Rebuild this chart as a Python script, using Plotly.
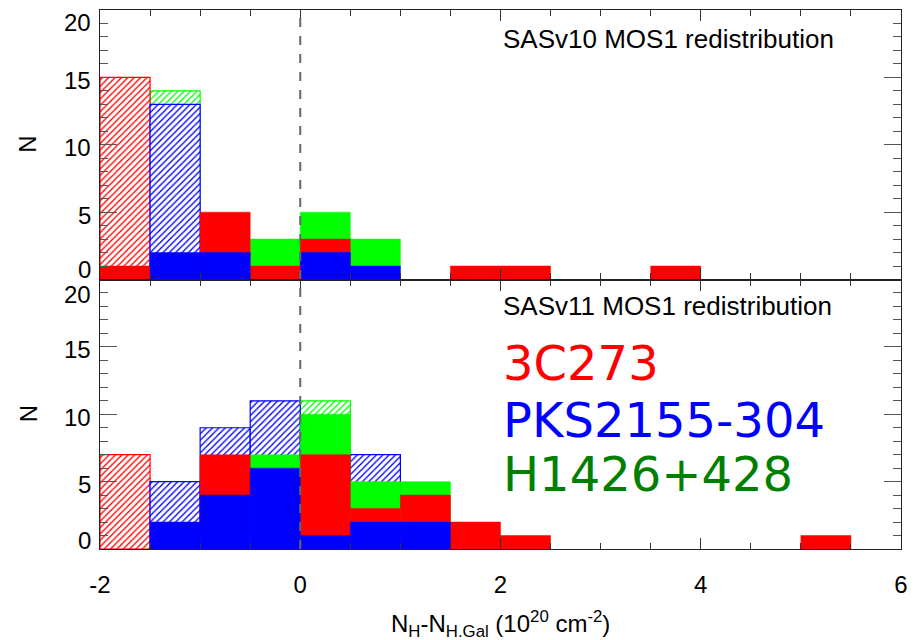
import plotly.graph_objects as go

# ---- data -------------------------------------------------------------
bin_edges = [-2.0, -1.5, -1.0, -0.5, 0.0, 0.5, 1.0, 1.5, 2.0, 2.5, 3.0, 3.5, 4.0, 4.5, 5.0, 5.5, 6.0]
bin_width = 0.5

# SASv10 MOS1 redistribution (top panel)
v10_red_solid   = [1, 0, 5, 1, 3, 0, 0, 1, 1, 0, 0, 1, 0, 0, 0, 0]
v10_blue_solid  = [0, 2, 2, 0, 2, 1, 0, 0, 0, 0, 0, 0, 0, 0, 0, 0]
v10_green_solid = [0, 0, 0, 3, 5, 3, 0, 0, 0, 0, 0, 0, 0, 0, 0, 0]
v10_red_hatch   = [15, 0, 0, 0, 0, 0, 0, 0, 0, 0, 0, 0, 0, 0, 0, 0]
v10_blue_hatch  = [0, 13, 0, 0, 0, 0, 0, 0, 0, 0, 0, 0, 0, 0, 0, 0]
v10_green_hatch = [0, 14, 0, 0, 0, 0, 0, 0, 0, 0, 0, 0, 0, 0, 0, 0]

# SASv11 MOS1 redistribution (bottom panel)
v11_red_solid   = [0, 0, 7, 0, 7, 3, 4, 2, 1, 0, 0, 0, 0, 0, 1, 0]
v11_blue_solid  = [0, 2, 4, 6, 1, 2, 2, 0, 0, 0, 0, 0, 0, 0, 0, 0]
v11_green_solid = [0, 0, 0, 7, 10, 5, 5, 0, 0, 0, 0, 0, 0, 0, 0, 0]
v11_red_hatch   = [7, 0, 0, 0, 0, 0, 0, 0, 0, 0, 0, 0, 0, 0, 0, 0]
v11_blue_hatch  = [0, 5, 9, 11, 0, 7, 0, 0, 0, 0, 0, 0, 0, 0, 0, 0]
v11_green_hatch = [0, 0, 0, 0, 11, 0, 0, 0, 0, 0, 0, 0, 0, 0, 0, 0]

x_tick_vals = [-2, 0, 2, 4, 6]
x_tick_text = ["-2", "0", "2", "4", "6"]
y_tick_vals = [0, 5, 10, 15, 20]

panel_titles = ["SASv10 MOS1 redistribution", "SASv11 MOS1 redistribution"]
source_names = ["3C273", "PKS2155-304", "H1426+428"]

RED, BLUE, GREEN = "#ff0000", "#0000ff", "#00ff00"
LEGEND_COLORS = ["#ff0000", "#0000ff", "#008000"]

centers = [(a + b) / 2 for a, b in zip(bin_edges[:-1], bin_edges[1:])]

fig = go.Figure()


def to_none(vals):
    return [v if v else None for v in vals]


def add_panel(xa, ya, hatch, solid):
    # hatched histograms first, solid ones on top (green, red, blue)
    for vals, col in zip(hatch, [GREEN, RED, BLUE]):
        fig.add_trace(go.Bar(
            x=centers, y=to_none(vals), width=bin_width, xaxis=xa, yaxis=ya,
            marker=dict(color="white", line=dict(color=col, width=1.2),
                        pattern=dict(shape="/", fgcolor=col, bgcolor="white",
                                     size=4.5, solidity=0.3, fillmode="replace")),
            showlegend=False, hoverinfo="skip"))
    for vals, col in zip(solid, [GREEN, RED, BLUE]):
        fig.add_trace(go.Bar(
            x=centers, y=to_none(vals), width=bin_width, xaxis=xa, yaxis=ya,
            marker=dict(color=col, line=dict(color=col, width=0.5)),
            showlegend=False, hoverinfo="skip"))


add_panel("x", "y",
          [v10_green_hatch, v10_red_hatch, v10_blue_hatch],
          [v10_green_solid, v10_red_solid, v10_blue_solid])
add_panel("x2", "y2",
          [v11_green_hatch, v11_red_hatch, v11_blue_hatch],
          [v11_green_solid, v11_red_solid, v11_blue_solid])

AX_FONT = dict(family="Liberation Sans, Arial, sans-serif", size=24, color="black")

xcommon = dict(range=[-2, 6], tickvals=x_tick_vals, ticktext=x_tick_text,
               ticks="inside", ticklen=11,
               tickwidth=1.2, tickcolor="#333", showline=True, linecolor="#222",
               linewidth=1.2, mirror="allticks", showgrid=False, zeroline=False,
               minor=dict(dtick=0.5, ticks="inside", ticklen=6, tickcolor="#333",
                          tickwidth=1.1, showgrid=False),
               tickfont=AX_FONT)
ycommon = dict(range=[0, 20], tickvals=y_tick_vals, ticks="inside", ticklen=17,
               tickwidth=1.2, tickcolor="#555", showline=True, linecolor="#222",
               linewidth=1.2, mirror="allticks", showgrid=False, zeroline=False,
               showticklabels=False,
               minor=dict(dtick=1, ticks="inside", ticklen=8, tickcolor="#555",
                          tickwidth=1.1, showgrid=False))

fig.update_layout(
    width=917, height=640,
    margin=dict(l=100, r=9, t=9, b=91),
    paper_bgcolor="white", plot_bgcolor="white",
    barmode="overlay",
    xaxis=dict(domain=[0, 1], anchor="y", showticklabels=False, **xcommon),
    yaxis=dict(domain=[0.5, 1], anchor="x", **ycommon),
    xaxis2=dict(domain=[0, 1], anchor="y2", showticklabels=True,
                ticklabelstandoff=14, **xcommon),
    yaxis2=dict(domain=[0, 0.5], anchor="x2", **ycommon),
    font=AX_FONT,
)

annotations = []
# y tick labels
for yref in ["y", "y2"]:
    for v in y_tick_vals:
        if v == 0:
            ya, ys = "bottom", (-4 if yref == "y" else -6)
        elif v == y_tick_vals[-1]:
            ya, ys = "top", (2 if yref == "y" else 0)
        else:
            ya, ys = "middle", -3
        annotations.append(dict(text=str(v), xref="paper", x=0, xshift=-8,
                                xanchor="right", yref=yref, y=v, yanchor=ya,
                                yshift=ys, borderpad=0, showarrow=False,
                                font=AX_FONT))
    annotations.append(dict(text="N", xref="paper", x=0, xshift=-72,
                            xanchor="center", yref=yref, y=10, yanchor="middle",
                            textangle=-90, showarrow=False, font=AX_FONT))

# panel titles
annotations.append(dict(text=panel_titles[0], xref="x", x=2.0, yref="y", y=17.85,
                        xanchor="left", yanchor="middle", showarrow=False,
                        font=dict(family="Liberation Sans, Arial", size=26, color="black")))
annotations.append(dict(text=panel_titles[1], xref="x2", x=2.0, yref="y2", y=18.05,
                        xanchor="left", yanchor="middle", showarrow=False,
                        font=dict(family="Liberation Sans, Arial", size=26, color="black")))

# big source labels
for name, col, yv in zip(source_names, LEGEND_COLORS, [13.8, 9.6, 5.6]):
    annotations.append(dict(text=name, xref="x2", x=2.0, yref="y2", y=yv,
                            xanchor="left", yanchor="middle", showarrow=False,
                            font=dict(family="DejaVu Sans", size=48, color=col)))

# x title
annotations.append(dict(text="N<sub>H</sub>-N<sub>H.Gal</sub> (10<sup>20</sup> cm<sup>-2</sup>)",
                        xref="paper", x=0.5, yref="paper", y=0, yshift=-75,
                        xanchor="center", yanchor="middle", showarrow=False,
                        font=dict(family="Liberation Sans, Arial", size=24, color="black")))

fig.update_layout(annotations=annotations)

# dashed vertical line at zero
fig.add_shape(type="line", xref="x", x0=0, x1=0, yref="paper", y0=0, y1=1,
              line=dict(color="#666", width=2, dash="dash"))

fig.write_html("out.html")
